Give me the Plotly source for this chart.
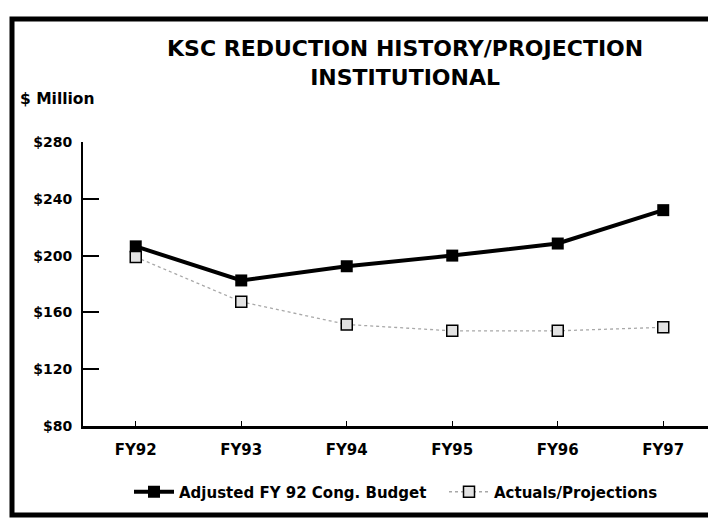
import plotly.graph_objects as go

categories = ["FY92", "FY93", "FY94", "FY95", "FY96", "FY97"]
budget = [206.5, 182.5, 192.5, 200, 208.5, 232]
actuals = [199, 167.5, 151.5, 147, 147, 149.5]
y_tickvals = [80, 120, 160, 200, 240, 280]
y_ticktext = ["$80", "$120", "$160", "$200", "$240", "$280"]

FONT = "DejaVu Sans, Liberation Sans, Arial, sans-serif"

fig = go.Figure()
fig.add_trace(go.Scatter(
    x=categories, y=budget, name="Adjusted FY 92 Cong. Budget",
    mode="lines+markers",
    line=dict(color="black", width=4),
    marker=dict(symbol="square", size=12, color="black"),
    cliponaxis=False, legend="legend",
))
fig.add_trace(go.Scatter(
    x=categories, y=actuals, name="Actuals/Projections",
    mode="lines+markers",
    line=dict(color="#a8a8a8", width=1.3, dash="dot"),
    marker=dict(symbol="square", size=11, color="#e2e2e2",
                line=dict(color="black", width=1.5)),
    cliponaxis=False, legend="legend2",
))

# page is offset by the browser's 8px body margin
OFF = 8
W, H = 708, 516
L, R, T, B = 75, 0, 134, 98
pw, ph = W - L - R, H - T - B

def px_x(x):
    return (x - OFF - L) / pw

def px_y(y):
    return (H - B - (y - OFF)) / ph

legend_common = dict(orientation="h", y=px_y(492), xanchor="left",
                     yanchor="middle", font=dict(size=15, weight="bold"),
                     itemwidth=40, bgcolor="rgba(0,0,0,0)")

fig.update_layout(
    width=W, height=H,
    margin=dict(l=L, r=R, t=T, b=B),
    paper_bgcolor="white", plot_bgcolor="white",
    font=dict(family=FONT, color="black", size=14, weight="bold"),
    showlegend=True,
    legend=dict(x=px_x(129), **legend_common),
    legend2=dict(x=px_x(444), **legend_common),
    xaxis=dict(range=[-0.5, 5.5], showgrid=False, zeroline=False,
               showline=True, linecolor="black", linewidth=2.5,
               ticks="inside", ticklen=5, tickwidth=1, tickcolor="black",
               ticklabelstandoff=8,
               tickfont=dict(size=15, weight="bold")),
    yaxis=dict(range=[80, 280], tickvals=y_tickvals, ticktext=y_ticktext,
               showgrid=False, zeroline=False,
               showline=True, linecolor="black", linewidth=2,
               ticks="inside", ticklen=16, tickwidth=2, tickcolor="black",
               ticklabelstandoff=6,
               tickfont=dict(size=14, weight="bold")),
    shapes=[dict(type="rect", xref="paper", yref="paper",
                 x0=px_x(12), x1=px_x(711), y0=px_y(515), y1=px_y(19),
                 line=dict(color="black", width=5))],
    annotations=[
        dict(text="KSC REDUCTION HISTORY/PROJECTION<br>INSTITUTIONAL",
             xref="paper", yref="paper", x=px_x(405), y=px_y(63),
             xanchor="center", yanchor="middle", showarrow=False,
             font=dict(size=22, weight="bold")),
        dict(text="$ Million", xref="paper", yref="paper",
             x=px_x(18), y=px_y(99), xanchor="left", yanchor="middle",
             showarrow=False, font=dict(size=15.5, weight="bold")),
    ],
)

fig.write_html("out.html")
